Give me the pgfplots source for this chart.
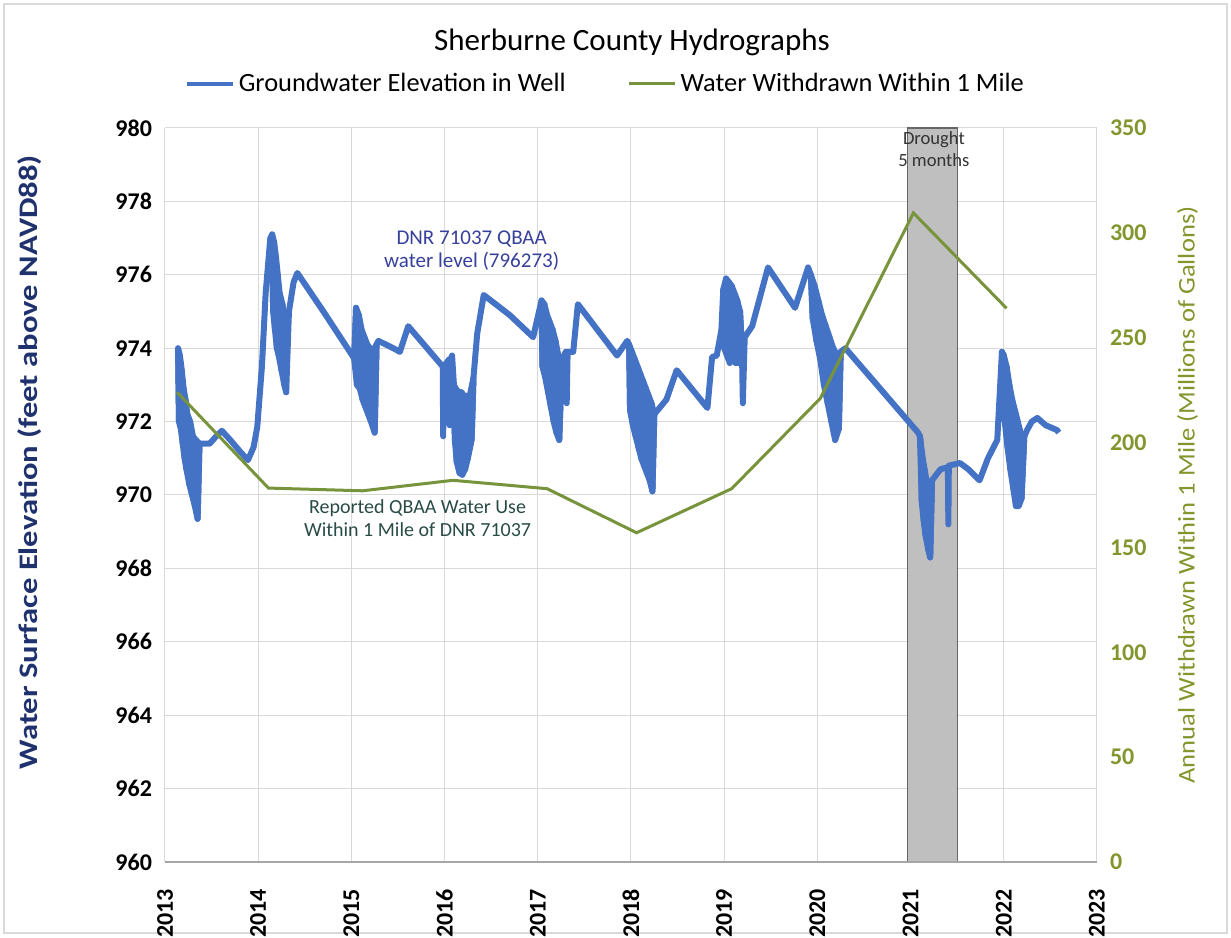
\documentclass[border=0pt]{standalone}
\usepackage{pgfplots}
\pgfplotsset{compat=1.18}
\usepackage{graphicx}
\usepackage{fontspec}
\setmainfont{Carlito}
\definecolor{wlblue}{RGB}{68,114,196}
\definecolor{wdgreen}{RGB}{119,147,60}
\definecolor{gridc}{RGB}{217,217,217}
\definecolor{rlab}{RGB}{130,150,45}
\definecolor{lab1}{RGB}{31,50,110}
\definecolor{annblue}{RGB}{55,65,155}
\definecolor{anngreen}{RGB}{40,75,70}
\begin{document}
\begin{tikzpicture}
\useasboundingbox (-82.5pt,-37.5pt) rectangle (533pt,431pt);
\draw[gridc, line width=0.6pt] (-80.5pt,-35.5pt) rectangle (531pt,429pt);
\begin{axis}[
  at={(0,0)}, anchor=south west,
  scale only axis, width=466pt, height=367pt,
  xmin=2013, xmax=2023, ymin=960, ymax=980,
  xtick={2013,2014,...,2023},
  xticklabels={2013,2014,2015,2016,2017,2018,2019,2020,2021,2022,2023},
  ytick={960,962,...,980},
  yticklabels={960,962,964,966,968,970,972,974,976,978,980},
  major tick length=0pt,
  grid=major, major grid style={gridc, line width=0.5pt},
  axis line style={draw=none},
  /pgf/number format/assume math mode=true,
  xticklabel style={rotate=90, anchor=east, font=\fontsize{12}{14}\selectfont\bfseries, xshift=-10pt},
  yticklabel style={font=\fontsize{12}{14}\selectfont\bfseries, xshift=-3pt},
  ylabel={\scalebox{1}[0.82]{Water Surface Elevation (feet above NAVD88)}},
  ylabel style={at={(axis description cs:-0.145,0.545)}, anchor=center, font=\fontsize{16.3}{18}\selectfont\bfseries, text=lab1},
  clip=true,
]
\addplot[fill=gray!50, draw=gray!80!black, line width=0.6pt] coordinates {(2020.97,960) (2021.50,960) (2021.50,980) (2020.97,980)} -- cycle;
\node[font=\fontsize{9.3}{11}\selectfont, text=black!80, align=center, anchor=north] at (axis cs:2021.25,980.1) {Drought\\5 months};
\node[font=\fontsize{10.5}{11.5}\selectfont, text=annblue, align=center] at (axis cs:2016.29,976.65) {DNR 71037 QBAA\\water level (796273)};
\node[font=\fontsize{10}{11.5}\selectfont, text=anngreen, align=center] at (axis cs:2015.71,969.37) {Reported QBAA Water Use\\Within 1 Mile of DNR 71037};
\draw[gray!70, line width=0.6pt] (rel axis cs:0,0) -- (rel axis cs:1,0);
% solid oscillation bands of the daily record
\pgfplotsset{band/.style={wlblue, fill=wlblue, line width=3pt, line join=round}}
\addplot[band] coordinates {(2013.14,974.0)(2013.16,973.8)(2013.18,973.4)(2013.20,972.9)(2013.22,972.6)(2013.24,972.2)(2013.27,972.0)(2013.30,971.6)(2013.33,971.5)(2013.37,971.4)
 (2013.35,969.35)(2013.32,969.7)(2013.29,970.0)(2013.26,970.3)(2013.23,970.7)(2013.21,971.0)(2013.19,971.4)(2013.17,971.8)(2013.15,972.0)} -- cycle;
\addplot[band] coordinates {(2014.15,977.1)(2014.17,976.9)(2014.19,976.5)(2014.21,976.0)(2014.23,975.5)(2014.26,975.2)(2014.29,974.8)
 (2014.30,972.8)(2014.28,973.0)(2014.25,973.4)(2014.22,973.8)(2014.20,974.0)(2014.18,974.5)(2014.16,975.0)} -- cycle;
\addplot[band] coordinates {(2015.05,975.1)(2015.08,974.9)(2015.11,974.5)(2015.14,974.3)(2015.17,974.1)(2015.20,974.0)(2015.23,973.9)(2015.27,974.1)
 (2015.25,971.7)(2015.21,972.0)(2015.18,972.2)(2015.15,972.4)(2015.12,972.6)(2015.09,972.9)(2015.06,973.0)(2015.03,973.7)} -- cycle;
\addplot[band] coordinates {(2016.10,973.0)(2016.12,972.9)(2016.15,972.8)(2016.18,972.8)(2016.21,972.7)(2016.24,972.7)(2016.27,972.7)(2016.31,973.2)
 (2016.29,971.5)(2016.25,971.0)(2016.22,970.7)(2016.19,970.55)(2016.16,970.6)(2016.13,970.9)(2016.11,971.5)} -- cycle;
\addplot[band] coordinates {(2017.04,975.3)(2017.07,975.2)(2017.10,974.9)(2017.13,974.7)(2017.16,974.5)(2017.19,974.2)(2017.22,973.8)(2017.26,973.7)
 (2017.23,971.5)(2017.20,971.7)(2017.17,972.0)(2017.14,972.4)(2017.11,972.8)(2017.08,973.2)(2017.05,973.5)} -- cycle;
\addplot[band] coordinates {(2017.98,974.1)(2018.01,973.9)(2018.04,973.7)(2018.07,973.5)(2018.10,973.3)(2018.13,973.1)(2018.16,972.9)(2018.19,972.7)(2018.22,972.5)(2018.25,972.2)
 (2018.23,970.1)(2018.20,970.4)(2018.17,970.6)(2018.14,970.8)(2018.11,971.0)(2018.08,971.3)(2018.05,971.6)(2018.02,971.9)(2017.99,972.3)} -- cycle;
\addplot[band] coordinates {(2018.99,975.6)(2019.02,975.9)(2019.05,975.8)(2019.08,975.7)(2019.11,975.5)(2019.14,975.3)(2019.17,975.0)
 (2019.19,974.0)(2019.15,973.6)(2019.12,973.6)(2019.09,974.2)(2019.06,973.6)(2019.03,973.8)(2019.00,974.0)} -- cycle;
\addplot[band] coordinates {(2019.93,976.0)(2019.97,975.7)(2020.01,975.3)(2020.05,974.9)(2020.09,974.6)(2020.13,974.3)(2020.17,974.0)(2020.21,973.8)(2020.25,973.9)
 (2020.23,971.8)(2020.19,971.5)(2020.15,972.0)(2020.11,972.5)(2020.07,973.0)(2020.03,973.7)(2019.99,974.2)(2019.95,974.8)} -- cycle;
\addplot[band] coordinates {(2021.10,971.6)(2021.13,971.0)(2021.15,970.7)(2021.17,970.4)(2021.20,970.2)(2021.23,970.4)
 (2021.21,968.3)(2021.19,968.5)(2021.16,968.9)(2021.14,969.3)(2021.12,969.8)} -- cycle;
\addplot[band] coordinates {(2021.98,973.9)(2022.00,973.8)(2022.03,973.5)(2022.06,973.0)(2022.09,972.6)(2022.12,972.3)(2022.15,972.0)(2022.18,971.7)(2022.22,971.6)
 (2022.19,969.9)(2022.16,969.7)(2022.13,969.7)(2022.10,970.2)(2022.07,970.7)(2022.04,971.3)(2022.01,972.0)} -- cycle;
\addplot[wlblue, line width=3pt, line join=round] coordinates {
(2013.14,974.0) (2013.15,972.0) (2013.16,973.8) (2013.17,971.8) (2013.18,973.4) (2013.19,971.4)
(2013.20,972.9) (2013.21,971.0) (2013.22,972.6) (2013.23,970.7) (2013.24,972.2) (2013.26,970.3)
(2013.27,972.0) (2013.29,970.0) (2013.30,971.6) (2013.32,969.7) (2013.33,971.5) (2013.35,969.35)
(2013.37,971.4) (2013.40,971.4) (2013.48,971.4) (2013.55,971.6) (2013.61,971.75) (2013.70,971.5)
(2013.80,971.2) (2013.89,970.95) (2013.95,971.3) (2013.99,971.85) (2014.04,973.5) (2014.08,975.5)
(2014.13,977.0) (2014.15,977.1) (2014.16,975.0) (2014.17,976.9) (2014.18,974.5) (2014.19,976.5)
(2014.20,974.0) (2014.21,976.0) (2014.22,973.8) (2014.23,975.5) (2014.25,973.4) (2014.26,975.2)
(2014.28,973.0) (2014.29,974.8) (2014.30,972.8) (2014.33,975.0) (2014.38,975.8) (2014.42,976.05)
(2014.70,975.0) (2015.02,973.76)
(2015.03,973.7) (2015.05,975.1) (2015.06,973.0) (2015.08,974.9) (2015.09,972.9) (2015.11,974.5)
(2015.12,972.6) (2015.14,974.3) (2015.15,972.4) (2015.17,974.1) (2015.18,972.2) (2015.20,974.0)
(2015.21,972.0) (2015.23,973.9) (2015.25,971.7) (2015.27,974.1) (2015.29,974.2) (2015.45,974.0)
(2015.52,973.9) (2015.61,974.6) (2015.98,973.5) (2015.985,971.6) (2015.99,973.5) (2016.05,973.7)
(2016.055,971.9) (2016.06,973.6) (2016.08,973.8)
(2016.10,973.0) (2016.11,971.5) (2016.12,972.9) (2016.13,970.9) (2016.15,972.8) (2016.16,970.6)
(2016.18,972.8) (2016.19,970.55) (2016.21,972.7) (2016.22,970.7) (2016.24,972.7) (2016.25,971.0)
(2016.27,972.7) (2016.29,971.5) (2016.31,973.2) (2016.35,974.4) (2016.42,975.45) (2016.70,974.9)
(2016.95,974.3)
(2017.04,975.3) (2017.05,973.5) (2017.07,975.2) (2017.08,973.2) (2017.10,974.9) (2017.11,972.8)
(2017.13,974.7) (2017.14,972.4) (2017.16,974.5) (2017.17,972.0) (2017.19,974.2) (2017.20,971.7)
(2017.22,973.8) (2017.23,971.5) (2017.26,973.7) (2017.30,973.9) (2017.31,972.5) (2017.32,973.9)
(2017.38,973.9) (2017.43,975.2) (2017.85,973.8) (2017.96,974.2)
(2017.98,974.1) (2017.99,972.3) (2018.01,973.9) (2018.02,971.9) (2018.04,973.7) (2018.05,971.6)
(2018.07,973.5) (2018.08,971.3) (2018.10,973.3) (2018.11,971.0) (2018.13,973.1) (2018.14,970.8)
(2018.16,972.9) (2018.17,970.6) (2018.19,972.7) (2018.20,970.4) (2018.22,972.5) (2018.23,970.1)
(2018.25,972.2) (2018.38,972.6) (2018.49,973.4) (2018.82,972.37) (2018.87,973.76) (2018.92,973.8)
(2018.97,974.5)
(2018.99,975.6) (2019.00,974.0) (2019.02,975.9) (2019.03,973.8) (2019.05,975.8) (2019.06,973.6)
(2019.08,975.7) (2019.09,974.2) (2019.11,975.5) (2019.12,973.6) (2019.14,975.3) (2019.15,973.6)
(2019.17,975.0) (2019.19,974.0) (2019.20,972.5) (2019.22,974.3) (2019.30,974.6) (2019.47,976.2)
(2019.76,975.1) (2019.90,976.2)
(2019.93,976.0) (2019.95,974.8) (2019.97,975.7) (2019.99,974.2) (2020.01,975.3) (2020.03,973.7)
(2020.05,974.9) (2020.07,973.0) (2020.09,974.6) (2020.11,972.5) (2020.13,974.3) (2020.15,972.0)
(2020.17,974.0) (2020.19,971.5) (2020.21,973.8) (2020.23,971.8) (2020.25,973.9) (2020.30,974.0)
(2021.08,971.7) (2021.10,971.6)
(2021.11,971.4) (2021.12,969.8) (2021.13,971.0) (2021.14,969.3) (2021.15,970.7) (2021.16,968.9)
(2021.17,970.4) (2021.19,968.5) (2021.20,970.2) (2021.21,968.3) (2021.23,970.4) (2021.26,970.5)
(2021.32,970.7) (2021.40,970.76) (2021.405,969.2) (2021.41,970.8) (2021.53,970.87) (2021.62,970.7)
(2021.74,970.4) (2021.83,971.0) (2021.93,971.5) (2021.98,973.9)
(2022.00,973.8) (2022.01,972.0) (2022.03,973.5) (2022.04,971.3) (2022.06,973.0) (2022.07,970.7)
(2022.09,972.6) (2022.10,970.2) (2022.12,972.3) (2022.13,969.7) (2022.15,972.0) (2022.16,969.7)
(2022.18,971.7) (2022.19,969.9) (2022.22,971.6) (2022.25,971.77) (2022.30,972.0) (2022.36,972.1)
(2022.45,971.9) (2022.57,971.77) (2022.59,971.7)
};
\end{axis}
\begin{axis}[
  at={(0,0)}, anchor=south west,
  scale only axis, width=466pt, height=367pt,
  xmin=2013, xmax=2023, ymin=0, ymax=350,
  axis x line=none,
  axis y line*=right,
  axis line style={draw=none},
  major tick length=0pt,
  ytick={0,50,...,350},
  yticklabels={0,50,100,150,200,250,300,350},
  /pgf/number format/assume math mode=true,
  yticklabel style={font=\fontsize{12}{14}\selectfont\bfseries, text=rlab, xshift=3pt},
  ylabel={\scalebox{1}[0.9]{Annual Withdrawn Within 1 Mile (Millions of Gallons)}},
  ylabel style={at={(axis description cs:1.097,0.50)}, anchor=center, rotate=0, font=\fontsize{13.3}{15}\selectfont, text=rlab},
  every axis title shift=0pt,
  title={Sherburne County Hydrographs},
  title style={at={(axis description cs:0.501,1.117)}, anchor=center, font=\fontsize{15.5}{18}\selectfont},
  legend columns=2,
  legend style={at={(axis description cs:0.4735,1.060)}, anchor=center, draw=none, fill=none,
    font=\fontsize{13.2}{15}\selectfont, /tikz/every even column/.append style={column sep=29pt}},
  legend image code/.code={\draw[#1] (0cm,0cm) -- (23pt,0cm);},
]
\addlegendimage{wlblue, line width=2pt}
\addlegendentry{Groundwater Elevation in Well}
\addplot[wdgreen, line width=1.5pt] coordinates {
(2013.13,224) (2014.11,178.3) (2015.12,177) (2016.09,182) (2017.10,178) (2018.06,157)
(2019.08,178) (2020.03,221) (2021.03,309.5) (2022.03,264)
};
\addlegendentry{Water Withdrawn Within 1 Mile}
\end{axis}
\end{tikzpicture}
\end{document}
